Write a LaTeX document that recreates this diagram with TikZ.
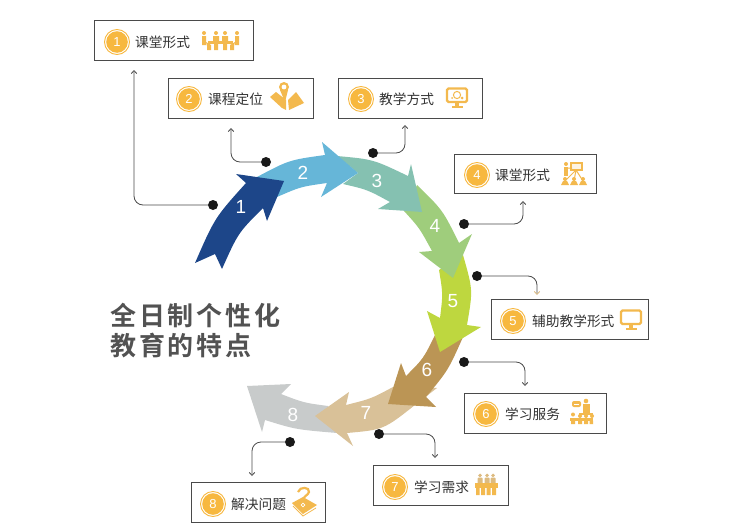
\documentclass[tikz,border=0pt]{standalone}
\usepackage{fontspec}
\setmainfont{Liberation Sans}
\newfontfamily\cjk{Noto Sans CJK SC}
\newfontfamily\titlefont[LetterSpace=11]{Noto Sans CJK SC Bold}
\usetikzlibrary{arrows, arrows.meta}
\usetikzlibrary{calc}
\definecolor{badgeorange}{HTML}{F7B83F}
\definecolor{iconorange}{HTML}{F3B94E}
\definecolor{iconpale}{HTML}{DDBB80}
\definecolor{lineink}{HTML}{4A4A4A}
\definecolor{seqa}{HTML}{1D4689}
\definecolor{seqb}{HTML}{66B6D8}
\definecolor{seqc}{HTML}{85C1B1}
\definecolor{seqd}{HTML}{9FCD7C}
\definecolor{seqe}{HTML}{BED73F}
\definecolor{seqf}{HTML}{BB9555}
\definecolor{seqg}{HTML}{D9C198}
\definecolor{seqh}{HTML}{C8CBCB}
\tikzset{
  card/.style={draw=lineink, line width=0.9pt, fill=white, inner sep=0pt},
  badge/.style={circle, draw=badgeorange, line width=0.9pt, fill=white, minimum size=25pt, inner sep=0pt,
    path picture={\fill[badgeorange] (path picture bounding box.center) circle (10.8);},
    text=white, font=\fontsize{13}{13}\selectfont},
  caption/.style={anchor=west, inner sep=0pt, text=black!80, font=\cjk\fontsize{13.7}{13.7}\selectfont},
  step num/.style={text=white, font=\fontsize{19}{19}\selectfont, inner sep=0pt},
  dot/.style={circle, fill=black!90, minimum size=10pt, inner sep=0pt},
  link/.style={draw=lineink, line width=0.8pt, rounded corners=9pt, -{Straight Barb[length=3pt,width=5.5pt]}},
  pics/guy pale/.style={code={
    \fill[iconpale] (0,-4.6) circle (1.9);
    \fill[iconpale, rounded corners=0.8] (-2.5,-2.3) rectangle (2.5,5);
  }},
  pics/screen/.style={code={
    \draw[iconorange, line width=2.2pt, rounded corners=1.5] (-10,-7.5) rectangle (10,6);
    \fill[iconorange] (-2,6) rectangle (2,9.5);
    \fill[iconorange] (-5.5,9.5) rectangle (5.5,11.5);
  }}
}
\begin{document}
\begin{tikzpicture}[x=1pt, y=-1pt]
  \useasboundingbox (0,0) rectangle (734,530);

  % ring of arrows, last one first
  \fill[seqh] (328,406) -- (337,433) .. controls (295.7,429.5) .. (265,420) -- (262,432) -- (247,386) -- (291,384) -- (281,394) .. controls (303.5,402.7) .. (328,406) -- cycle;
  \fill[seqg] (393,387) -- (437,388) -- (415,405) .. controls (383.7,429.7) .. (347,433) -- (353,446) -- (315,416) -- (349,392) -- (346,405) .. controls (371.2,398.7) .. (393,387) -- cycle;
  \fill[seqf] (435,335) -- (463,337) .. controls (448.2,370.3) .. (426,397) -- (436,407) -- (388,404) -- (401,363) -- (406,376) .. controls (423.5,358.5) .. (435,335) -- cycle;
  \fill[seqe] (439,270) -- (463,255) .. controls (473,290) .. (467,325) -- (481,327) -- (440,352) -- (427,311) -- (440,318) .. controls (443,294) .. (439,270) -- cycle;
  \fill[seqd] (404,211) -- (417,185) .. controls (442.7,210) .. (459,243) -- (472,234) -- (453,278) -- (419,252) -- (432,251) .. controls (419.3,227.7) .. (404,211) -- cycle;
  \fill[seqc] (337,156) .. controls (373.2,159.3) .. (408,176) -- (411,164) -- (422,212) -- (378,209) -- (390,202) .. controls (367.5,189.7) .. (343,184) -- (358,173) -- cycle;
  \fill[seqb] (257,177) .. controls (289,160) .. (325,155) -- (322,142) -- (358,173) -- (321,197) -- (327,183) .. controls (300.7,186.7) .. (277,197) -- cycle;
  \fill[seqa] (195,263) -- (215,254) -- (222,269) .. controls (238.2,232.8) .. (263,208) -- (267,221) -- (284,181) -- (236,174) -- (246,183) .. controls (214.8,217.7) .. (195,263) -- cycle;

  \node[step num] (n1) at (241,207) {1};
  \node[step num] (n2) at (303,173) {2};
  \node[step num] (n3) at (377,181) {3};
  \node[step num] (n4) at (435,226) {4};
  \node[step num] (n5) at (453,301) {5};
  \node[step num] (n6) at (427,370) {6};
  \node[step num] (n7) at (366,413) {7};
  \node[step num] (n8) at (293,415) {8};

  % cards
  \node[card, minimum width=159pt, minimum height=40pt] (card1) at (173.5,40) {};
  \node[card, minimum width=145pt, minimum height=40pt] (card2) at (240.5,98) {};
  \node[card, minimum width=144pt, minimum height=40pt] (card3) at (410.5,98) {};
  \node[card, minimum width=142pt, minimum height=39pt] (card4) at (525,173.5) {};
  \node[card, minimum width=157pt, minimum height=40pt] (card5) at (569.5,319) {};
  \node[card, minimum width=142pt, minimum height=40pt] (card6) at (535,413) {};
  \node[card, minimum width=135pt, minimum height=40pt] (card7) at (440.5,485) {};
  \node[card, minimum width=134pt, minimum height=40pt] (card8) at (258,502) {};

  \node[badge] (badge1) at (117,42) {1};
  \node[badge] (badge2) at (189,99) {2};
  \node[badge] (badge3) at (361,99) {3};
  \node[badge] (badge4) at (477,175) {4};
  \node[badge] (badge5) at (513,321) {5};
  \node[badge] (badge6) at (486,414) {6};
  \node[badge] (badge7) at (395,487) {7};
  \node[badge] (badge8) at (213,504) {8};

  \node[caption] (text1) at (135,42) {课堂形式};
  \node[caption] (text2) at (208,99) {课程定位};
  \node[caption] (text3) at (379,99) {教学方式};
  \node[caption] (text4) at (495,175) {课堂形式};
  \node[caption] (text5) at (532,321) {辅助教学形式};
  \node[caption] (text6) at (505,414) {学习服务};
  \node[caption] (text7) at (414,487) {学习需求};
  \node[caption] (text8) at (231,504) {解决问题};

  % connectors
  \node[dot] (dot1) at (213,205) {};
  \node[dot] (dot2) at (266,162) {};
  \node[dot] (dot3) at (373,153) {};
  \node[dot] (dot4) at (464,224) {};
  \node[dot] (dot5) at (477,276) {};
  \node[dot] (dot6) at (464,362) {};
  \node[dot] (dot7) at (379,434) {};
  \node[dot] (dot8) at (290,442) {};
  \coordinate (end1) at (134,70);
  \coordinate (end2) at (231,128);
  \coordinate (end3) at (405,125);
  \coordinate (end4) at (523,201);
  \coordinate (end5) at (537,295);
  \coordinate (end6) at (525,386);
  \coordinate (end7) at (435,458);
  \coordinate (end8) at (252,476);
  \draw[link] (dot1) -| (end1);
  \draw[link] (dot2) -| (end2);
  \draw[link] (dot3) -| (end3);
  \draw[link] (dot4) -| (end4);
  \draw[link, -{Straight Barb[length=3pt,width=5.5pt,color=iconpale]}] (dot5) -| (end5);
  \draw[link] (dot6) -| (end6);
  \draw[link] (dot7) -| (end7);
  \draw[link] (dot8) -| (end8);

  % icon of card 1
  \fill[iconorange] (204,33) circle (2) (216,33) circle (2) (225,33) circle (2) (237,33) circle (2);
  \fill[iconorange] (202,36) rectangle (206,45) (235,36) rectangle (239,45);
  \fill[iconorange] (206,42) -- (211,45) -- (211,50) -- (207,50) -- (207,46) -- cycle;
  \fill[iconorange] (235,42) -- (230,45) -- (230,50) -- (234,50) -- (234,46) -- cycle;
  \fill[iconorange] (213,36) rectangle (219,41) (222,36) rectangle (228,41);
  \fill[iconorange] (208,41) rectangle (233,44);
  \fill[iconorange] (214,44) rectangle (218,50) (223,44) rectangle (227,50);

  % icon of card 2
  \fill[iconorange] (270,97) -- (276,92) -- (286,100) -- (286,110) -- (282,108) -- cycle;
  \fill[iconorange] (288,100) -- (296,92) -- (304,103) -- (289,110) -- cycle;
  \fill[iconorange] (284,87) circle (5);
  \fill[iconorange] (280,90) -- (288,90) -- (285,102) -- cycle;
  \fill[white] (284,87) circle (2.4);

  % icon of card 3
  \pic (screen3) at (457,96) {screen};
  \draw[iconorange, line width=1pt] (457,95) circle (3.6);
  \fill[iconorange] (462,98) circle (1.5) (452,98) circle (1);

  % icon of card 4
  \fill[iconorange] (566,164) circle (2);
  \fill[iconorange] (564,167) rectangle (568,176);
  \draw[iconorange, line width=1.2pt, fill=iconorange!15] (571,163) rectangle (582,170);
  \draw[iconorange, line width=1pt] (568,168) -- (572,168) (576,170) -- (565,181) (576,170) -- (574,181) (576,170) -- (583,181);
  \fill[iconorange] (565,179) circle (2) (574,179) circle (2) (583,179) circle (2);
  \fill[iconorange] (561,185) -- (563,181) -- (567,181) -- (569,185) -- cycle;
  \fill[iconorange] (570,185) -- (572,181) -- (576,181) -- (578,185) -- cycle;
  \fill[iconorange] (579,185) -- (581,181) -- (585,181) -- (587,185) -- cycle;

  % icon of card 5
  \pic (screen5) at (631,318) {screen};

  % icon of card 6
  \fill[iconorange, rounded corners=2] (572,401) rectangle (581,407);
  \fill[white] (574,403.5) rectangle (579,404.5);
  \fill[iconorange] (586,401) circle (2.3);
  \fill[iconorange] (582.5,404) rectangle (589.5,413);
  \fill[iconorange] (579,413) rectangle (593,415);
  \fill[iconorange] (573,414.5) circle (2) (580,416) circle (2) (586,416) circle (2) (592,416) circle (2);
  \fill[iconorange] (570,418) rectangle (593,420.5);
  \fill[iconorange] (571,420.5) rectangle (575,424) (578,420.5) rectangle (582,424) (584,420.5) rectangle (588,424) (589.5,420.5) rectangle (593,424);

  % icon of card 7
  \pic (back71) at (480,480) {guy pale};
  \pic (back72) at (487,480) {guy pale};
  \pic (back73) at (493,480) {guy pale};
  \fill[iconorange] (475,483) rectangle (498,488);
  \fill[iconorange] (476,488) rectangle (479.5,495) (481,488) rectangle (485,495) (486.5,488) rectangle (490.5,495) (492,488) rectangle (496,495);

  % icon of card 8
  \fill[iconorange] (292,503) -- (303,497) -- (317,505) -- (303,514) -- cycle;
  \draw[iconorange, line width=0.8pt] (293,506) -- (303,516) -- (316,508);
  \draw[iconorange, line width=2.2pt] (298,492) .. controls (300,486) and (310,487) .. (309,492) .. controls (308,496) and (303,495) .. (303,502);
  \draw[white, line width=0.7pt] (303,505) circle (1.8);

  % title
  \node[anchor=west, inner sep=0pt, text=black!68, font=\titlefont\fontsize{26}{26}\selectfont] (title1) at (110,315) {全日制个性化};
  \node[anchor=west, inner sep=0pt, text=black!68, font=\titlefont\fontsize{26}{26}\selectfont] (title2) at (110,345) {教育的特点};
\end{tikzpicture}
\end{document}
